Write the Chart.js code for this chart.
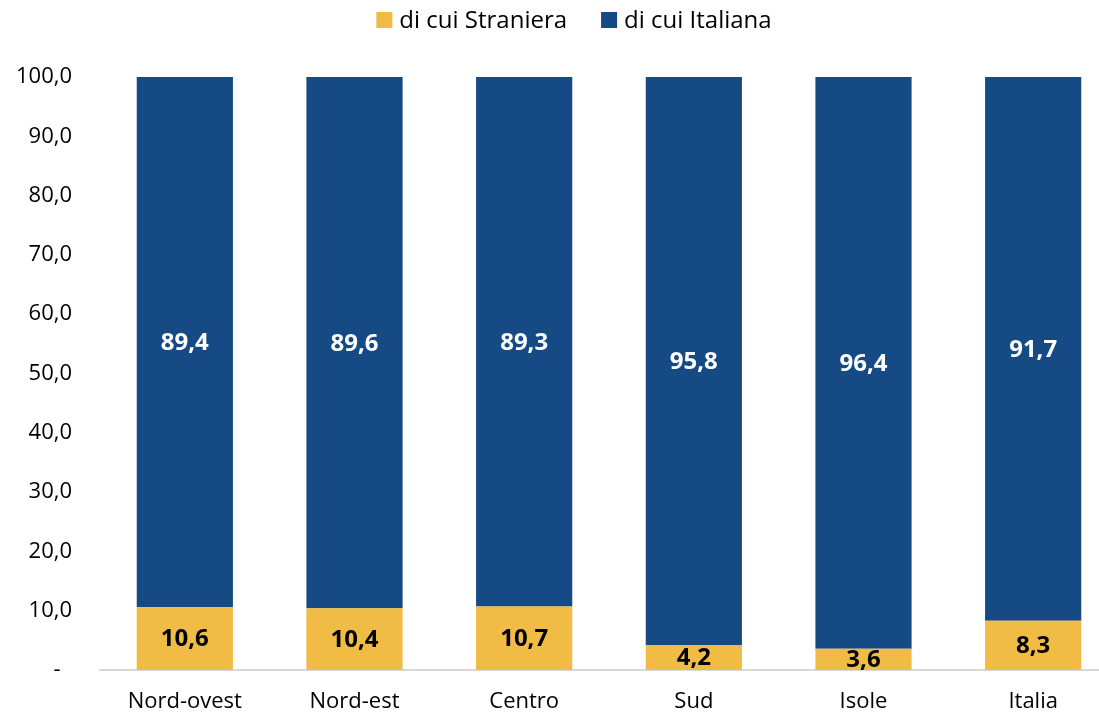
<!DOCTYPE html>
<html>
<head>
<meta charset="utf-8">
<script src="https://cdn.jsdelivr.net/npm/chart.js@4"></script>
<style>
    html, body { margin: 0; padding: 0; background: #fff; overflow: hidden; }
    #wrap { width: 1120px; height: 713px; }
</style>
</head>
<body>
<div id="wrap"><canvas id="chart"></canvas></div>
<script>
const categories = ["Nord-ovest", "Nord-est", "Centro", "Sud", "Isole", "Italia"];
const straniera = [10.6, 10.4, 10.7, 4.2, 3.6, 8.3];
const italiana = [89.4, 89.6, 89.3, 95.8, 96.4, 91.7];
const seriesNames = ["di cui Straniera", "di cui Italiana"];

const fmt = v => v.toFixed(1).replace(".", ",");

// labels in the middle of each bar segment
const barLabels = {
    id: "barLabels",
    afterDatasetsDraw(chart) {
        const ctx = chart.ctx;
        ctx.save();
        ctx.textAlign = "center";
        ctx.textBaseline = "middle";
        ctx.font = "bold 24px 'Open Sans'";
        chart.data.datasets.forEach((ds, i) => {
            const meta = chart.getDatasetMeta(i);
            ctx.fillStyle = i === 0 ? "#000000" : "#ffffff";
            meta.data.forEach((bar, j) => {
                const y = (bar.y + bar.base) / 2;
                ctx.fillText(fmt(ds.data[j]), bar.x, y + 1);
            });
        });
        ctx.restore();
    }
};

// legend drawn by hand so the gaps match the original
const topLegend = {
    id: "topLegend",
    afterDraw(chart) {
        const ctx = chart.ctx;
        ctx.save();
        ctx.font = "24px 'Open Sans'";
        ctx.textBaseline = "middle";
        const box = 16, gapText = 7, gapItem = 34;
        const items = chart.data.datasets.map(ds => ({ text: ds.label, color: ds.backgroundColor }));
        const widths = items.map(it => box + gapText + ctx.measureText(it.text).width);
        const total = widths.reduce((a, b) => a + b, 0) + gapItem * (items.length - 1);
        let x = 574 - total / 2;
        items.forEach((it, i) => {
            ctx.fillStyle = it.color;
            ctx.fillRect(x, 12, box, box);
            ctx.fillStyle = "#000";
            ctx.fillText(it.text, x + box + gapText, 21);
            x += widths[i] + gapItem;
        });
        ctx.restore();
    }
};

new Chart(document.getElementById("chart"), {
    type: "bar",
    data: {
        labels: categories,
        datasets: [
            { label: seriesNames[0], data: straniera, backgroundColor: "#F0BC45" },
            { label: seriesNames[1], data: italiana, backgroundColor: "#164A84" }
        ]
    },
    options: {
        responsive: true,
        maintainAspectRatio: false,
        animation: false,
        layout: { padding: { top: 77, left: 0, right: 2, bottom: 0 } },
        datasets: { bar: { categoryPercentage: 1, barPercentage: 0.567 } },
        scales: {
            x: {
                stacked: true,
                grid: { display: false, drawTicks: false },
                border: { color: "#d9d9d9", width: 2 },
                ticks: { color: "#000", font: { family: "Open Sans", size: 22 }, padding: 19 },
                afterFit: scale => { scale.height = 43; }
            },
            y: {
                stacked: true,
                min: 0,
                max: 100,
                grid: { display: false, drawTicks: false },
                border: { display: false },
                ticks: {
                    stepSize: 10,
                    color: "#000",
                    padding: 28,
                    font: { family: "Open Sans", size: 22 },
                    callback: v => v === 0 ? "-  " : fmt(v)
                },
                afterFit: scale => { scale.width = 100; }
            }
        },
        plugins: {
            legend: { display: false },
            tooltip: { enabled: false }
        }
    },
    plugins: [barLabels, topLegend]
});
</script>
</body>
</html>
